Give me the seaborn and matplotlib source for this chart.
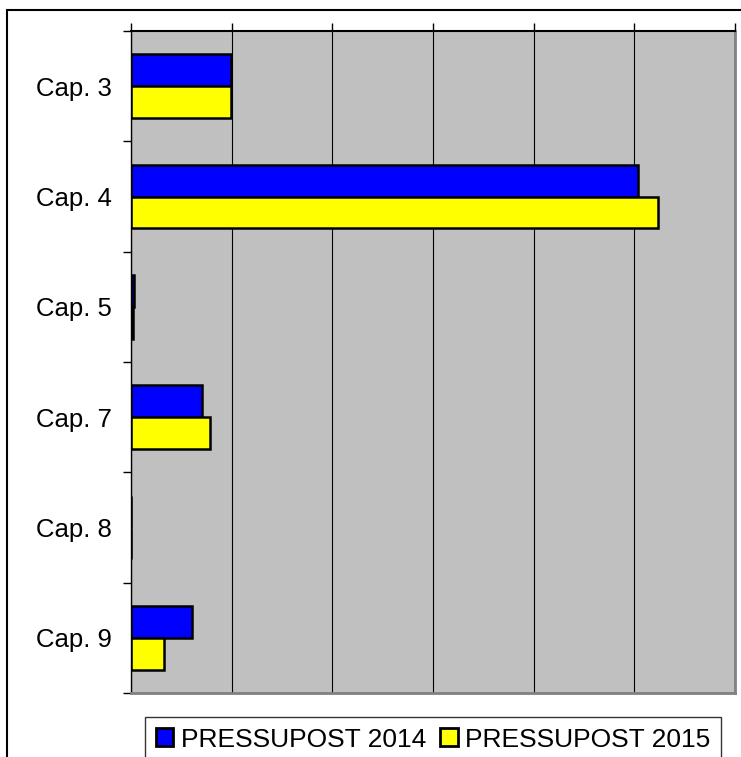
import pandas as pd
import seaborn as sns
import matplotlib.pyplot as plt
from matplotlib.patches import Rectangle

# values (grid step = 100)
caps = ['Cap. 3', 'Cap. 4', 'Cap. 5', 'Cap. 7', 'Cap. 8', 'Cap. 9']
pres_2014 = [99, 504, 3, 71, 0, 61]
pres_2015 = [99, 524, 2, 78, 0, 33]
series = ['PRESSUPOST 2014', 'PRESSUPOST 2015']
colors = ['#0000FF', '#FFFF00']

df = pd.DataFrame({
    'cap': caps * 2,
    'valor': pres_2014 + pres_2015,
    'serie': [series[0]] * len(caps) + [series[1]] * len(caps),
})

sns.set_style('white')
plt.rcParams['font.family'] = ['Liberation Sans', 'DejaVu Sans']
plt.rcParams['text.color'] = 'black'
plt.rcParams['ytick.labelcolor'] = 'black'

fig = plt.figure(figsize=(7.41, 7.57), dpi=100)
ax = fig.add_axes([131/741, 1 - 693/757, (735 - 131)/741, (693 - 31)/757])
ax.set_facecolor('#C0C0C0')

sns.barplot(data=df, x='valor', y='cap', hue='serie', palette=colors,
            orient='h', width=0.58, edgecolor='black', linewidth=1.8,
            saturation=1, ax=ax, legend=True)

ax.set_xlim(0, 600)
ax.set_ylim(5.5, -0.5)
ax.set_xticks(range(0, 601, 100))
ax.set_xticklabels([])
ax.xaxis.tick_top()
ax.tick_params(axis='x', top=True, bottom=False, direction='out', length=6,
               width=1, color='black')
ax.set_axisbelow(True)
ax.grid(axis='x', color='black', linewidth=0.8)
ax.grid(axis='y', visible=False)

ax.set_yticks(range(len(caps)))
ax.set_yticklabels(caps, fontsize=18.5, color='black')
ax.set_yticks([i - 0.5 for i in range(len(caps) + 1)], minor=True)
ax.tick_params(axis='y', which='major', length=0, pad=14)
ax.tick_params(axis='y', which='minor', left=True, direction='out', length=6,
               width=1, color='black')
ax.set_xlabel('')
ax.set_ylabel('')

for side in ['top', 'left']:
    ax.spines[side].set_visible(True)
    ax.spines[side].set_color('black')
ax.spines['top'].set_linewidth(1.5)
ax.spines['left'].set_linewidth(1)
for side in ['bottom', 'right']:
    ax.spines[side].set_visible(True)
    ax.spines[side].set_color('#808080')
    ax.spines[side].set_linewidth(2)

handles, labels = ax.get_legend_handles_labels()
ax.legend_.remove()
leg = fig.legend(handles, labels, loc='upper left',
                 bbox_to_anchor=(145/741, 1 - 717/757), borderaxespad=0,
                 ncol=2, fontsize=19, frameon=True, fancybox=False,
                 handlelength=0.65, handleheight=0.65, handletextpad=0.3,
                 columnspacing=0.55, borderpad=0.4, labelcolor='black')
leg.get_frame().set_edgecolor('black')
leg.get_frame().set_linewidth(1)
for h in leg.legend_handles:
    h.set_edgecolor('black')
    h.set_linewidth(2)

# outer chart border (cut off right and bottom)
fig.patches.append(Rectangle((7/741, -0.05), 1.1, 1 - 9.5/757 + 0.05,
                             transform=fig.transFigure, fill=False,
                             edgecolor='black', linewidth=1.5))

fig.savefig('out.png', dpi=100)
